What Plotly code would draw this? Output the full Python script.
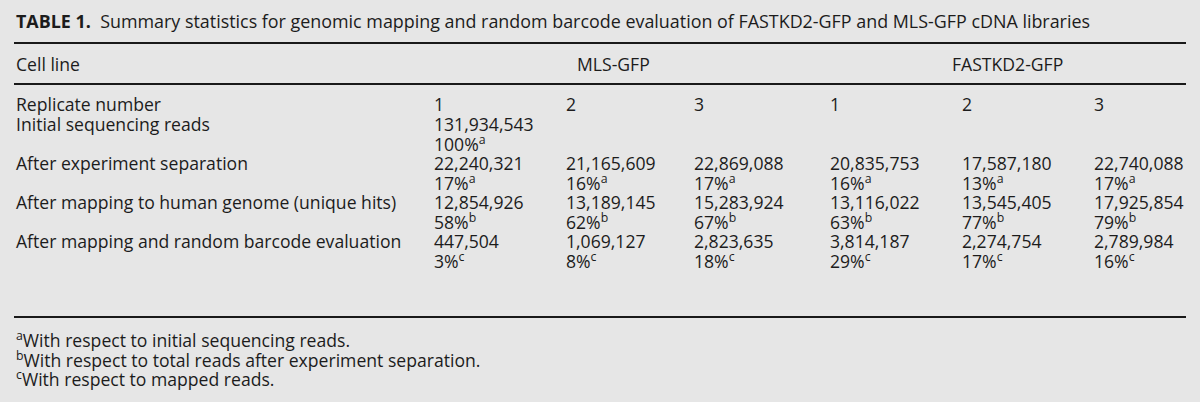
import plotly.graph_objects as go

title_bold = "TABLE 1."
title_text = "Summary statistics for genomic mapping and random barcode evaluation of FASTKD2-GFP and MLS-GFP cDNA libraries"
header_label = "Cell line"
cell_lines = ["MLS-GFP", "FASTKD2-GFP"]
replicates = ["1", "2", "3", "1", "2", "3"]

row_labels = [
    "Replicate number",
    "Initial sequencing reads",
    "After experiment separation",
    "After mapping to human genome (unique hits)",
    "After mapping and random barcode evaluation",
]
initial_reads = ["131,934,543", "", "", "", "", ""]
initial_pct = ["100%", "", "", "", "", ""]
sep_reads = ["22,240,321", "21,165,609", "22,869,088", "20,835,753", "17,587,180", "22,740,088"]
sep_pct = ["17%", "16%", "17%", "16%", "13%", "17%"]
map_reads = ["12,854,926", "13,189,145", "15,283,924", "13,116,022", "13,545,405", "17,925,854"]
map_pct = ["58%", "62%", "67%", "63%", "77%", "79%"]
bc_reads = ["447,504", "1,069,127", "2,823,635", "3,814,187", "2,274,754", "2,789,984"]
bc_pct = ["3%", "8%", "18%", "29%", "17%", "16%"]
pct_marks = ["a", "a", "b", "c"]

footnotes = [
    ("a", "With respect to initial sequencing reads."),
    ("b", "With respect to total reads after experiment separation."),
    ("c", "With respect to mapped reads."),
]

FONT = "Open Sans"
FS = 17.6
COL = "#1c1c1c"
BG = "#e6e6e6"

col_x = [432, 564, 692, 828, 960, 1092]
group_x = [613, 1007]
label_x = 14
row_y = [104, 123.5, 143, 162.5, 182, 201.5, 221, 240.5, 260]
foot_y = [339, 359, 378]

fig = go.Figure()
ann = []

def t(x, y, s, size=FS, xanchor="left"):
    ann.append(dict(x=x, y=y, xref="x", yref="y", text=s, showarrow=False,
                    xanchor=xanchor, yanchor="middle",
                    font=dict(family=FONT, size=size, color=COL)))

t(label_x, 21, f"<b>{title_bold}</b>  {title_text}", size=17.9)
t(label_x, 64, header_label)
for gx, name in zip(group_x, cell_lines):
    t(gx, 64, name, xanchor="center")

t(label_x, row_y[0], row_labels[0])
for x, r in zip(col_x, replicates):
    t(x, row_y[0], r)

data_rows = [
    (row_labels[1], initial_reads, initial_pct, pct_marks[0], row_y[1], row_y[2]),
    (row_labels[2], sep_reads, sep_pct, pct_marks[1], row_y[3], row_y[4]),
    (row_labels[3], map_reads, map_pct, pct_marks[2], row_y[5], row_y[6]),
    (row_labels[4], bc_reads, bc_pct, pct_marks[3], row_y[7], row_y[8]),
]
for lab, reads, pcts, mark, y1, y2 in data_rows:
    t(label_x, y1, lab)
    for x, r, p in zip(col_x, reads, pcts):
        if r:
            t(x, y1, r)
        if p:
            t(x, y2, f"{p}<sup>{mark}</sup>")

for (m, s), y in zip(footnotes, foot_y):
    t(label_x, y, f"<sup>{m}</sup>{s}")

shapes = []
for y in [43, 84, 317]:
    shapes.append(dict(type="line", xref="x", yref="y", x0=14, x1=1186, y0=y, y1=y,
                       line=dict(color="#1a1a1a", width=2)))

fig.update_layout(
    width=1200, height=402,
    margin=dict(l=0, r=0, t=0, b=0),
    paper_bgcolor=BG, plot_bgcolor=BG,
    xaxis=dict(range=[0, 1200], visible=False, fixedrange=True),
    yaxis=dict(range=[402, 0], visible=False, fixedrange=True),
    annotations=ann, shapes=shapes, showlegend=False,
)
fig.write_html("out.html", config={"displayModeBar": False},
               post_script="document.body.style.margin='0px';document.body.style.background='#e6e6e6';")
